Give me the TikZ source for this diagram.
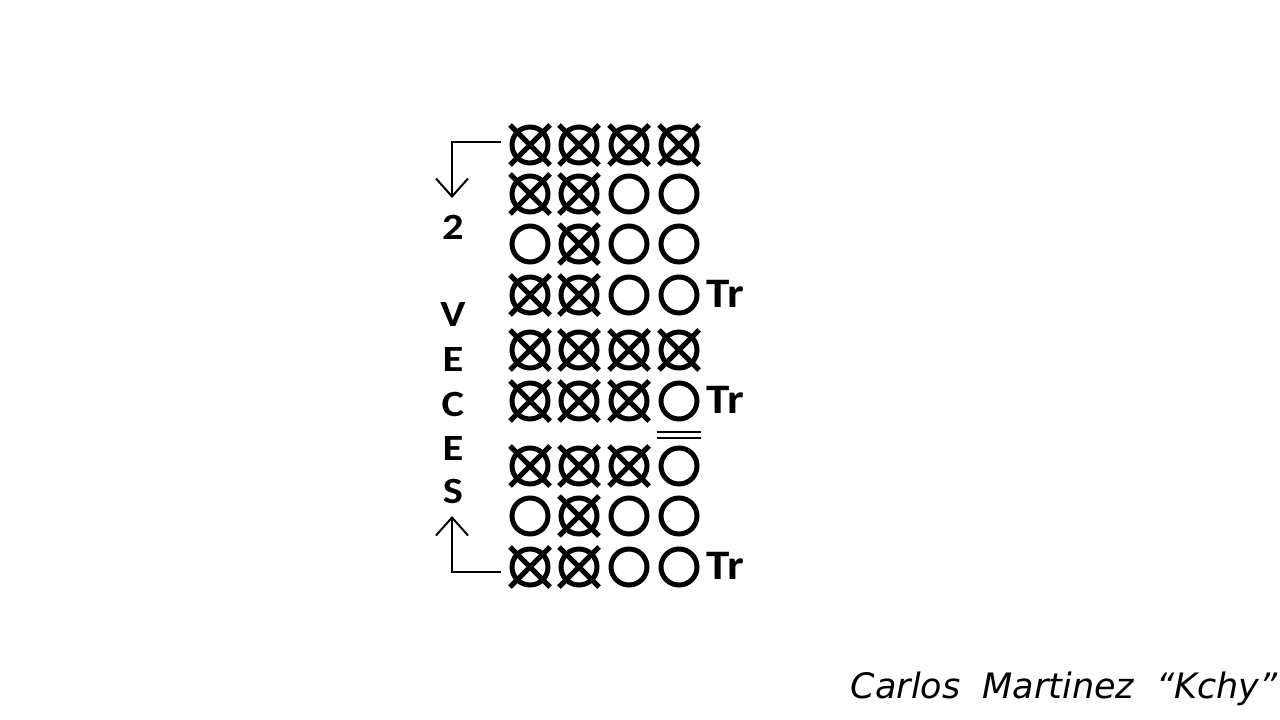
\documentclass[tikz,border=0pt]{standalone}
\usepackage{fontspec}
\setmainfont{Carlito}
\newfontfamily\signfont{DejaVu Sans}
\usetikzlibrary{arrows.meta}
\begin{document}
\begin{tikzpicture}[x=1pt,y=-1pt,
  stitch/.style={line width=5pt},
  lbl/.style={font=\fontsize{37}{37}\selectfont\bfseries, inner sep=0pt, xscale=1.15},
  trlbl/.style={font=\fontsize{42}{42}\selectfont\bfseries, inner sep=0pt, xscale=1.12},
  guide/.style={line width=2pt, -{Straight Barb[length=18pt,width=32pt,line width=2pt]}}]
\useasboundingbox[fill=white] (0,0) rectangle (1280,720);
\def\R{18}
% O = plain circle, X = crossed circle
\newcommand{\oo}[2]{\draw[stitch] (#1,#2) circle (\R);}
\newcommand{\xx}[2]{\draw[stitch] (#1,#2) circle (\R);
  \draw[stitch] (#1-20,#2-20) -- (#1+20,#2+20) (#1-20,#2+20) -- (#1+20,#2-20);}
\def\ca{530}\def\cb{579}\def\cc{629}\def\cd{679}
% row 1
\xx{\ca}{145}\xx{\cb}{145}\xx{\cc}{145}\xx{\cd}{145}
% row 2
\xx{\ca}{194}\xx{\cb}{194}\oo{\cc}{194}\oo{\cd}{194}
% row 3
\oo{\ca}{244}\xx{\cb}{244}\oo{\cc}{244}\oo{\cd}{244}
% row 4
\xx{\ca}{295}\xx{\cb}{295}\oo{\cc}{295}\oo{\cd}{295}
% row 5
\xx{\ca}{350}\xx{\cb}{350}\xx{\cc}{350}\xx{\cd}{350}
% row 6
\xx{\ca}{401}\xx{\cb}{401}\xx{\cc}{401}\oo{\cd}{401}
% row 7
\xx{\ca}{466}\xx{\cb}{466}\xx{\cc}{466}\oo{\cd}{466}
% row 8
\oo{\ca}{516}\xx{\cb}{516}\oo{\cc}{516}\oo{\cd}{516}
% row 9
\xx{\ca}{567}\xx{\cb}{567}\oo{\cc}{567}\oo{\cd}{567}
% double line
\draw[line width=2.5pt] (657,432) -- (701,432) (657,438) -- (701,438);
% Tr labels
\node[trlbl, anchor=base west] (tr1) at (706,307) {Tr};
\node[trlbl, anchor=base west] (tr2) at (706,413) {Tr};
\node[trlbl, anchor=base west] (tr3) at (706,579) {Tr};
% side letters
\node[lbl, anchor=base] (n2) at (453,239) {2};
\node[lbl, anchor=base] (lv) at (453,326) {V};
\node[lbl, anchor=base] (le1) at (453,371) {E};
\node[lbl, anchor=base] (lc) at (453,416) {C};
\node[lbl, anchor=base] (le2) at (453,460) {E};
\node[lbl, anchor=base] (ls) at (453,503) {S};
% guide arrows
\coordinate (ts) at (501,142);
\coordinate (tc) at (452,142);
\coordinate (te) at (452,198);
\coordinate (bs) at (501,572);
\coordinate (bc) at (452,572);
\coordinate (be) at (452,516);
\draw[guide] (ts) -- (tc) -- (te);
\draw[guide] (bs) -- (bc) -- (be);
% signature
\node[anchor=base east, inner sep=0pt, font=\signfont\itshape\fontsize{35}{35}\selectfont] (sig) at (1278,698) {Carlos\ \ Martinez\ \ “Kchy”};
\end{tikzpicture}
\end{document}
